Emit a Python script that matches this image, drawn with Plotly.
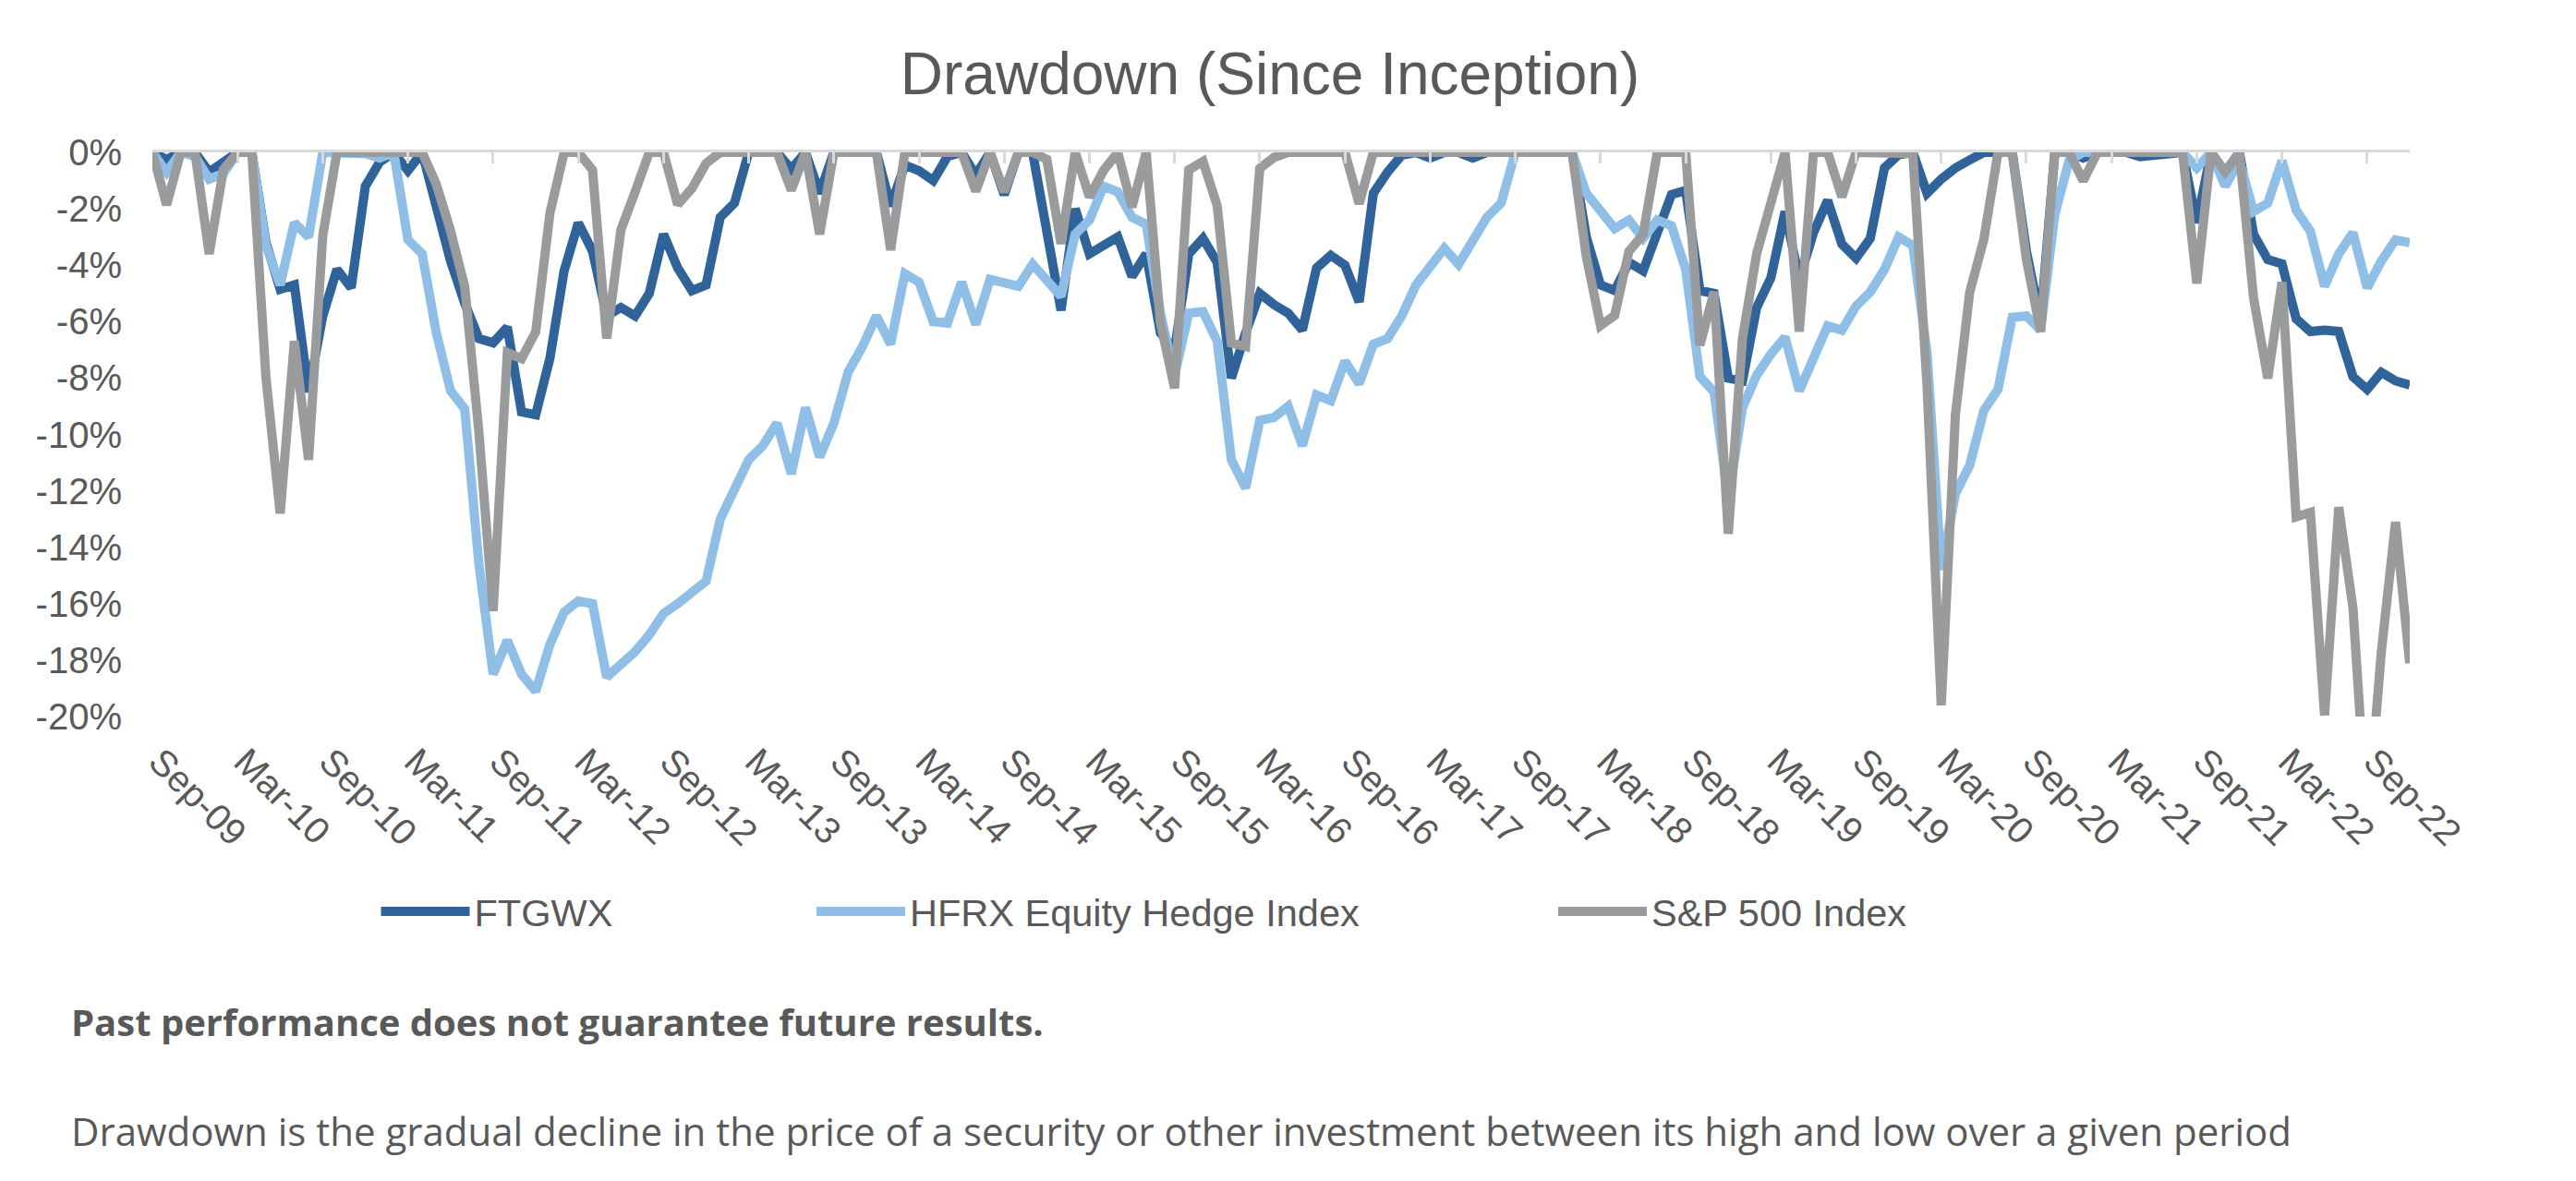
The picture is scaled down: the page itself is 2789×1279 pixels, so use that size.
import pandas as pd
import plotly.graph_objects as go

# Monthly categories Sep-09 .. Dec-22
months = pd.date_range("2009-09-01", periods=160, freq="MS").strftime("%b-%y").tolist()

ftgwx = [
    0, -0.25, 0, 0, -0.7, -0.3, 0, 0, -3.2, -4.85,
    -4.7, -8.5, -5.8, -4.15, -4.8, -1.2, -0.35, 0, -0.65, 0,
    -1.9, -3.85, -5.35, -6.6, -6.75, -6.2, -9.2, -9.3, -7.3, -4.2,
    -2.5, -3.5, -5.8, -5.5, -5.8, -5.0, -2.9, -4.1, -4.9, -4.7,
    -2.3, -1.8, 0, 0, 0, -0.6, 0, -1.45, 0, 0,
    0, 0, -1.9, -0.45, -0.65, -1.0, -0.15, 0, -0.8, 0,
    -1.5, 0, 0, -2.6, -5.6, -2.0, -3.6, -3.3, -3.0, -4.4,
    -3.6, -6.4, -7.0, -3.6, -3.05, -3.9, -8.0, -6.4, -5.0, -5.4,
    -5.7, -6.3, -4.1, -3.65, -4.0, -5.3, -1.45, -0.7, -0.1, 0,
    -0.2, 0, 0, -0.2, 0, 0, 0, 0, 0, 0,
    0, -3.0, -4.7, -4.9, -3.9, -4.2, -2.75, -1.5, -1.35, -4.9,
    -5.0, -8.0, -8.1, -5.5, -4.45, -2.1, -4.5, -2.85, -1.7, -3.25,
    -3.75, -3.05, -0.55, -0.08, 0, -1.45, -0.95, -0.55, -0.27, 0,
    0, 0, -3.5, -6.0, 0, 0, -0.2, 0, 0, 0,
    -0.15, -0.1, 0, 0, -2.5, 0, -0.7, 0, -2.9, -3.8,
    -3.95, -5.9, -6.35, -6.3, -6.35, -7.95, -8.4, -7.8, -8.1, -8.25,
]

hfrx = [
    0, -0.7, 0, -0.15, -0.95, -0.75, 0, 0, -3.3, -4.7,
    -2.5, -3.0, 0, 0, 0, -0.05, -0.2, 0, -3.1, -3.6,
    -6.4, -8.45, -9.1, -14.6, -18.5, -17.3, -18.5, -19.1, -17.45, -16.3,
    -15.9, -16.0, -18.6, -18.2, -17.7, -17.1, -16.35, -16.0, -15.6, -15.2,
    -13.0, -11.95, -10.9, -10.4, -9.6, -11.4, -9.05, -10.8, -9.6, -7.8,
    -6.9, -5.8, -6.8, -4.3, -4.6, -6.0, -6.05, -4.6, -6.1, -4.5,
    -4.6, -4.75, -3.97, -4.5, -5.1, -2.9, -2.4, -1.2, -1.4, -2.3,
    -2.55, -5.7, -7.9, -5.7, -5.65, -6.7, -10.9, -11.9, -9.5, -9.4,
    -9.0, -10.4, -8.6, -8.8, -7.4, -8.2, -6.8, -6.6, -5.8, -4.7,
    -4.1, -3.4, -3.97, -3.1, -2.3, -1.8, 0, 0, 0, 0,
    0, -1.45, -2.05, -2.7, -2.4, -3.05, -2.4, -2.6, -4.15, -7.95,
    -8.5, -12.3, -9.05, -7.9, -7.15, -6.55, -8.45, -7.2, -6.15, -6.3,
    -5.45, -4.95, -4.15, -3.0, -3.3, -7.1, -14.8, -12.1, -11.1, -9.15,
    -8.4, -5.85, -5.8, -6.3, -2.2, -0.3, 0, 0, 0, 0,
    0, 0, 0, 0, -0.55, 0, -1.2, -0.3, -2.1, -1.8,
    -0.3, -2.05, -2.8, -4.75, -3.6, -2.85, -4.8, -3.85, -3.1, -3.2,
]

sp500 = [
    0, -1.86, 0, 0, -3.60, -0.61, 0, 0, -7.99, -12.80,
    -6.69, -10.90, -2.95, 0, 0, 0, 0, 0, 0, 0,
    -1.13, -2.78, -4.76, -9.93, -16.26, -7.10, -7.31, -6.36, -2.16, 0,
    0, -0.63, -6.60, -2.75, -1.40, 0, 0, -1.85, -1.28, -0.39,
    0, 0, 0, 0, 0, -1.34, 0, -2.90, 0, 0,
    0, 0, -3.46, 0, 0, 0, 0, 0, -1.38, 0,
    -1.40, 0, 0, -0.25, -3.24, 0, -1.58, -0.64, 0, -1.94,
    0, -6.03, -8.36, -0.62, -0.32, -1.89, -6.76, -6.88, -0.57, -0.18,
    0, 0, 0, 0, 0, -1.82, 0, 0, 0, 0,
    0, 0, 0, 0, 0, 0, 0, 0, 0, 0,
    0, -3.69, -6.14, -5.78, -3.51, -2.91, 0, 0, 0, -6.84,
    -4.94, -13.52, -6.59, -3.59, -1.72, 0, -6.35, 0, 0, -1.58,
    0, 0, 0, 0, -0.04, -8.27, -19.60, -9.29, -4.97, -3.08,
    0, 0, -3.80, -6.36, 0, 0, -1.01, 0, 0, 0,
    0, 0, 0, 0, -4.65, 0, -0.69, 0, -5.17, -8.01,
    -4.60, -12.92, -12.76, -19.96, -12.58, -16.15, -23.87, -17.70, -13.10, -18.11,
]

series_names = ["FTGWX", "HFRX Equity Hedge Index", "S&P 500 Index"]
series_colors = ["#2F6399", "#8FBFE6", "#9A9B9D"]
y_ticks = [0, -2, -4, -6, -8, -10, -12, -14, -16, -18, -20]
y_ticktext = ["0%", "-2%", "-4%", "-6%", "-8%", "-10%", "-12%", "-14%", "-16%", "-18%", "-20%"]
x_tickvals = months[::6]

title_text = "Drawdown (Since Inception)"
note1 = "<b>Past performance does not guarantee future results.</b>"
note2 = ("Drawdown is the gradual decline in the price of a security or other investment "
         "between its high and low over a given period")

TXT = "#595959"
FONT = "Liberation Sans, Arial, sans-serif"
NOTE_FONT = "Open Sans, sans-serif"

fig = go.Figure()
legend_ids = ["legend", "legend2", "legend3"]
for name, vals, col, lg in zip(series_names, [ftgwx, hfrx, sp500], series_colors, legend_ids):
    fig.add_trace(go.Scatter(
        x=months, y=vals, name=name, mode="lines",
        line=dict(color=col, width=10), legend=lg,
        hovertemplate="%{x}: %{y:.2f}%<extra>" + name + "</extra>",
    ))

# helper trace for the top (0%) axis carrying the tick marks
fig.add_trace(go.Scatter(x=[], y=[], xaxis="x2", showlegend=False, hoverinfo="skip"))

# page has an 8px body margin, so the figure is 16px smaller than the window
W, H = 2773, 1263
L, R, T, B = 157, 172, 157, 495
PW, PH = W - L - R, H - T - B

legend_common = dict(
    orientation="h", font=dict(family=FONT, size=41.5, color=TXT),
    bgcolor="rgba(0,0,0,0)", itemwidth=96, yanchor="middle", xanchor="left",
)

fig.update_layout(
    width=W, height=H,
    margin=dict(l=L, r=R, t=T, b=B, autoexpand=False),
    paper_bgcolor="white", plot_bgcolor="white",
    font=dict(family=FONT, color=TXT),
    title=dict(text=title_text, font=dict(family=FONT, size=64, color=TXT),
               x=1367 / W, xanchor="center", y=1 - 72 / H, yanchor="middle"),
    xaxis=dict(
        type="category", tickmode="array", tickvals=x_tickvals, ticktext=x_tickvals,
        tickangle=45, tickfont=dict(family=FONT, size=40, color=TXT),
        ticks="", showgrid=False, showline=False, zeroline=False,
        range=[0, len(months) - 1], ticklabelstandoff=16, ticklabelshift=8,
    ),
    xaxis2=dict(
        overlaying="x", side="top", anchor="y", range=[0, len(months) - 1],
        tickmode="linear", tick0=0, dtick=6, ticks="inside", ticklen=12,
        tickwidth=3, tickcolor="#D9D9D9", showline=True, linecolor="#D9D9D9",
        linewidth=3, showticklabels=False, showgrid=False, zeroline=False,
    ),
    yaxis=dict(
        range=[-20, 0], tickmode="array", tickvals=y_ticks, ticktext=y_ticktext,
        tickfont=dict(family=FONT, size=40, color=TXT), showgrid=False,
        zeroline=False, showline=False, ticks="", ticklabelstandoff=32,
    ),
    legend=dict(x=(399.5 - L) / PW, y=(H - B - 979) / PH, **legend_common),
    legend2=dict(x=(871 - L) / PW, y=(H - B - 979) / PH, **legend_common),
    legend3=dict(x=(1674 - L) / PW, y=(H - B - 979) / PH, **legend_common),
    annotations=[
        dict(text=note1, xref="paper", yref="paper", x=(67 - L) / PW,
             y=(H - B - 1098) / PH, xanchor="left", yanchor="middle",
             showarrow=False, font=dict(family=NOTE_FONT, size=40, color=TXT)),
        dict(text=note2, xref="paper", yref="paper", x=(67 - L) / PW,
             y=(H - B - 1216) / PH, xanchor="left", yanchor="middle",
             showarrow=False, font=dict(family=NOTE_FONT, size=42, color=TXT)),
    ],
    showlegend=True,
)

fig.write_html("out.html")
